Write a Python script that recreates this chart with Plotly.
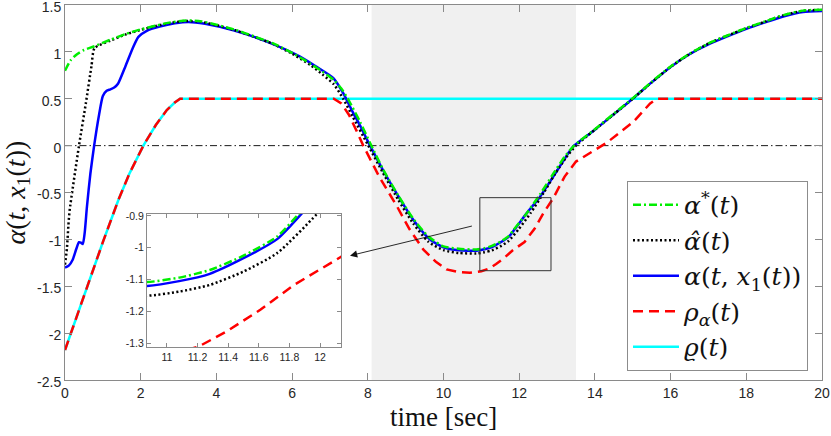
import plotly.graph_objects as go

# ---------------- data ----------------
t_star = [0, 0.15, 0.3, 0.5, 0.78, 1.2, 1.6, 2.0, 2.4, 2.8, 3.2, 3.6, 4.0, 4.5, 5.0, 5.5,
          6.0, 6.5, 6.8, 7.1, 7.3, 7.5, 7.8, 8.07, 8.4, 8.8, 9.2, 9.6, 10.0, 10.4, 10.87,
          11.08, 11.28, 11.5, 11.72, 11.85, 12.2, 12.55, 12.9, 13.2, 13.45, 14.0, 14.5,
          15.0, 15.5, 16.0, 16.5, 17.0, 17.5, 18.0, 18.5, 19.0, 19.5, 20]
alpha_star = [0.80, 0.91, 0.97, 1.02, 1.06, 1.13, 1.19, 1.24, 1.28, 1.315, 1.335, 1.325,
              1.29, 1.235, 1.165, 1.09, 0.99, 0.87, 0.79, 0.70, 0.61, 0.48, 0.25, 0.02,
              -0.25, -0.53, -0.78, -0.97, -1.075, -1.10, -1.108, -1.094, -1.07, -1.025,
              -0.965, -0.90, -0.72, -0.52, -0.30, -0.12, 0.0, 0.175, 0.34, 0.505, 0.68,
              0.845, 0.98, 1.09, 1.175, 1.255, 1.325, 1.395, 1.44, 1.45]

t_hat = [0, 0.05, 0.09, 0.12, 0.37, 0.55, 0.7, 0.78, 1.2, 1.6, 2.0, 2.4, 2.8, 3.2, 3.6,
         4.0, 4.5, 5.0, 5.5, 6.0, 6.5, 6.8, 7.1, 7.35, 7.6, 8.0, 8.4, 8.8, 9.2, 9.6, 10.0,
         10.4, 10.87, 11.08, 11.28, 11.5, 11.72, 11.98, 12.3, 12.65, 12.95, 13.25, 13.5,
         14.0, 14.5, 15.0, 15.5, 16.0, 16.5, 17.0, 17.5, 18.0, 18.5, 19.0, 19.5, 20]
alpha_hat = [-1.27, -1.10, -0.85, -0.70, 0.0, 0.45, 0.85, 1.04, 1.12, 1.185, 1.235, 1.275,
             1.31, 1.33, 1.32, 1.285, 1.23, 1.16, 1.085, 0.98, 0.855, 0.76, 0.655, 0.50,
             0.31, 0.01, -0.29, -0.575, -0.83, -1.025, -1.115, -1.145, -1.151, -1.138,
             -1.117, -1.075, -1.017, -0.894, -0.72, -0.50, -0.30, -0.12, 0.0, 0.17, 0.335,
             0.50, 0.675, 0.84, 0.977, 1.088, 1.173, 1.253, 1.323, 1.393, 1.438, 1.448]

t_alpha = [0, 0.1, 0.2, 0.3, 0.37, 0.42, 0.47, 0.52, 0.58, 0.67, 0.77, 0.9, 1.0, 1.1, 1.2,
           1.3, 1.4, 1.6, 1.8, 1.94, 2.16, 2.5, 2.9, 3.26, 3.7, 4.45, 5.33, 6.21, 6.65,
           7.09, 7.35, 7.6, 7.8, 8.06, 8.4, 8.76, 9.2, 9.64, 10.0, 10.2, 10.5, 10.87,
           11.08, 11.28, 11.5, 11.72, 11.88, 12.2, 12.55, 12.9, 13.17, 13.35, 13.45, 14.0,
           14.5, 15.0, 15.5, 16.0, 16.5, 17.0, 17.5, 18.0, 18.5, 19.0, 19.5, 20]
alpha = [-1.30, -1.28, -1.22, -1.10, -1.03, -1.035, -1.05, -0.93, -0.65, -0.30, 0.0, 0.33,
         0.53, 0.585, 0.60, 0.62, 0.66, 0.85, 1.05, 1.16, 1.225, 1.27, 1.305, 1.32, 1.30,
         1.23, 1.11, 0.95, 0.84, 0.72, 0.56, 0.36, 0.21, 0.0, -0.26, -0.51, -0.79, -1.0,
         -1.085, -1.105, -1.118, -1.12, -1.105, -1.082, -1.033, -0.973, -0.893, -0.72,
         -0.545, -0.33, -0.16, -0.05, 0.0, 0.17, 0.335, 0.50, 0.675, 0.84, 0.975, 1.08,
         1.165, 1.245, 1.315, 1.38, 1.425, 1.435]

t_rho = [0, 0.5, 1.0, 1.41, 1.7, 2.07, 2.4, 2.69, 2.9, 3.04, 7.1, 7.3, 7.5, 7.7, 7.88,
         8.3, 8.76, 9.1, 9.47, 9.8, 10.08, 10.4, 10.7, 11.0, 11.21, 11.39, 11.61, 11.83,
         12.14, 12.4, 12.64, 12.9, 13.2, 13.5, 14.31, 15.02, 15.46, 15.63, 20]
rho_alpha = [-2.18, -1.60, -1.03, -0.58, -0.30, 0.0, 0.22, 0.38, 0.46, 0.50, 0.50, 0.45,
             0.33, 0.16, 0.0, -0.33, -0.64, -0.89, -1.11, -1.24, -1.32, -1.35, -1.355,
             -1.34, -1.31, -1.263, -1.195, -1.117, -1.028, -0.89, -0.72, -0.56, -0.33,
             -0.17, 0.03, 0.255, 0.45, 0.50, 0.50]

t_varrho = [0, 0.5, 1.0, 1.41, 1.7, 2.07, 2.4, 2.69, 2.9, 3.04, 20]
varrho = [-2.18, -1.60, -1.03, -0.58, -0.30, 0.0, 0.22, 0.38, 0.46, 0.50, 0.50]

shade_span = [8.1, 13.5]
zero_level = 0
zoom_box_t = [10.96, 12.84]
zoom_box_y = [-1.334, -0.555]
arrow_tail = [10.79, -0.854]
arrow_head = [7.53, -1.174]

x_ticks = [0, 2, 4, 6, 8, 10, 12, 14, 16, 18, 20]
y_ticks = [-2.5, -2, -1.5, -1, -0.5, 0, 0.5, 1, 1.5]
y_tick_text = ["-2.5", "-2", "-1.5", "-1", "-0.5", "0", "0.5", "1", "1.5"]
inset_x_ticks = [11, 11.2, 11.4, 11.6, 11.8, 12]
inset_x_text = ["11", "11.2", "11.4", "11.6", "11.8", "12"]
inset_y_ticks = [-1.3, -1.2, -1.1, -1.0, -0.9]
inset_y_text = ["-1.3", "-1.2", "-1.1", "-1", "-0.9"]
inset_x_range = [10.87, 12.137]
inset_y_range = [-1.312, -0.894]

names = ["<i>α</i><sup>*</sup>(<i>t</i>)",
         "<i>α̂</i>(<i>t</i>)",
         "<i>α</i>(<i>t</i>, <i>x</i><sub>1</sub>(<i>t</i>))",
         "<i>ρ</i><sub><i>α</i></sub>(<i>t</i>)",
         "<i>ϱ</i>(<i>t</i>)"]

# ---------------- styles ----------------
W = 2.5
series = [
    # (t, y, name, color, dash, rank, shape)
    (t_varrho, varrho, names[4], "#00ffff", "solid", 5, "linear"),
    (t_rho, rho_alpha, names[3], "#ff0000", "10px,6px", 4, "linear"),
    (t_alpha, alpha, names[2], "#0000ff", "solid", 3, "spline"),
    (t_hat, alpha_hat, names[1], "#000000", "2px,2.5px", 2, "spline"),
    (t_star, alpha_star, names[0], "#00ee00", "8px,3px,2px,3px", 1, "spline"),
]

fig = go.Figure()
for t, y, nm, col, dash, rank, shp in series:
    fig.add_trace(go.Scatter(x=t, y=y, mode="lines", name=nm, legendrank=rank,
                             line=dict(color=col, width=W, dash=dash, shape=shp,
                                       smoothing=0.6)))
for t, y, nm, col, dash, rank, shp in series:
    fig.add_trace(go.Scatter(x=t, y=y, mode="lines", name=nm, showlegend=False,
                             xaxis="x2", yaxis="y2",
                             line=dict(color=col, width=W, dash=dash, shape=shp,
                                       smoothing=0.6)))

fig.add_vrect(x0=shade_span[0], x1=shade_span[1], fillcolor="#f0f0f0", line_width=0,
              layer="below")
fig.add_hline(y=zero_level, line=dict(color="#1a1a1a", width=1, dash="7px,3px,1.5px,3px"),
              layer="below")
fig.add_shape(type="rect", xref="x", yref="y", x0=zoom_box_t[0], x1=zoom_box_t[1],
              y0=zoom_box_y[0], y1=zoom_box_y[1], line=dict(color="#333333", width=1),
              layer="above")
fig.add_annotation(x=arrow_head[0], y=arrow_head[1], ax=arrow_tail[0], ay=arrow_tail[1],
                   xref="x", yref="y", axref="x", ayref="y", text="", showarrow=True,
                   arrowhead=2, arrowsize=1.6, arrowwidth=0.9, arrowcolor="#111111")

AXC = "#8a8a8a"
TXT = "#262626"
SERIF = "Liberation Serif, Times New Roman, serif"
tickfont = dict(family="Liberation Sans, Arial, sans-serif", size=14, color=TXT)
insetfont = dict(family="Liberation Sans, Arial, sans-serif", size=10.5, color=TXT)

common = dict(ticks="inside", tickcolor=AXC, showline=True, linecolor=AXC, linewidth=1,
              mirror="ticks", showgrid=False, zeroline=False, automargin=False,
              ticklabeloverflow="allow")

fig.update_layout(
    width=831, height=436, autosize=False,
    margin=dict(l=65, r=9, t=5, b=56),
    paper_bgcolor="white", plot_bgcolor="white",
    xaxis=dict(range=[0, 20], tickvals=x_ticks, ticklen=7, tickfont=tickfont, **common),
    yaxis=dict(range=[-2.5, 1.5], tickvals=y_ticks, ticktext=y_tick_text, ticklen=7,
               tickfont=tickfont, ticklabelshift=2, **common),
    xaxis2=dict(domain=[0.1083, 0.3646], anchor="y2", range=inset_x_range,
                tickvals=inset_x_ticks, ticktext=inset_x_text, ticklen=4,
                tickfont=insetfont, **common),
    yaxis2=dict(domain=[0.088, 0.4427], anchor="x2", range=inset_y_range,
                tickvals=inset_y_ticks, ticktext=inset_y_text, ticklen=4,
                tickfont=insetfont, **common),
    legend=dict(x=0.7424, y=0.5307, xanchor="left", yanchor="top", bgcolor="white",
                bordercolor="#8c8c8c", borderwidth=1, itemwidth=46, tracegroupgap=0,
                font=dict(family="DejaVu Serif, serif", size=25, color="#111111")),
    showlegend=True,
)

fig.add_annotation(text="time [sec]", xref="paper", yref="paper", x=0.5, y=-0.099,
                   xanchor="center", yanchor="middle", showarrow=False,
                   font=dict(family=SERIF, size=27, color="#111111"))
fig.add_annotation(text="<i>α</i>(<i>t</i>, <i>x</i><sub>1</sub>(<i>t</i>))",
                   xref="paper", yref="paper", x=-0.0634, y=0.5, textangle=-90,
                   xanchor="center", yanchor="middle", showarrow=False,
                   font=dict(family=SERIF, size=28, color="#111111"))

fig.write_html("out.html", config={"displayModeBar": False},
               post_script="document.body.style.margin='0px';")
